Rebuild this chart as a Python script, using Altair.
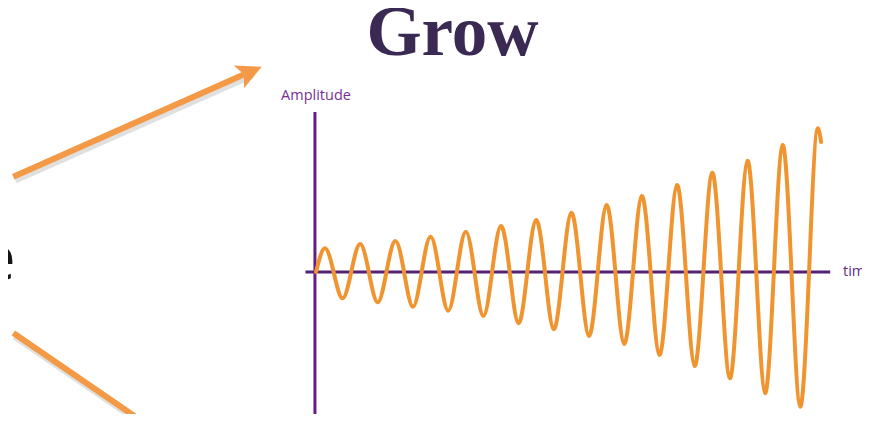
import altair as alt
import pandas as pd

# ---- data ----
# time in cycles, amplitude in arbitrary units (extrema and axis crossings)
time = [0, 0.25, 0.5, 0.75, 1.0, 1.25, 1.5, 1.75, 2.0, 2.25, 2.5, 2.75, 3.0, 3.25, 3.5, 3.75,
        4.0, 4.25, 4.5, 4.75, 5.0, 5.25, 5.5, 5.75, 6.0, 6.25, 6.5, 6.75, 7.0, 7.25, 7.5, 7.75,
        8.0, 8.25, 8.5, 8.75, 9.0, 9.25, 9.5, 9.75, 10.0, 10.25, 10.5, 10.75, 11.0, 11.25, 11.5, 11.75,
        12.0, 12.25, 12.5, 12.75, 13.0, 13.25, 13.5, 13.75, 14.0, 14.25, 14.34]
amplitude = [0, 23.7, 0, -26.3, 0, 28, 0, -30.3, 0, 31, 0, -34.7, 0, 35.3, 0, -38.7,
             0, 40.3, 0, -44, 0, 46, 0, -51.3, 0, 52, 0, -57.3, 0, 59.3, 0, -64,
             0, 67, 0, -72, 0, 76, 0, -83, 0, 87, 0, -94, 0, 99.3, 0, -106.3,
             0, 111.3, 0, -121.3, 0, 127, 0, -134.7, 0, 143.7, 130]

tail_start = 14.0  # last axis crossing; the final hooked crest is drawn on its own

time_axis_extent = [-0.3, 14.6]
amp_axis_extent = [-160, 160]
axis_time_pos = [-0.03]

title_text = "Grow"
y_label = "Amplitude"
x_label = "time"
side_letter = "e"

# ---- styling ----
W, H = 854, 406
ORANGE = "#f09430"
ARROW = "#f49a47"
PURPLE_V = "#661c82"
PURPLE_H = "#512276"

x_scale = alt.Scale(domain=[0, 15], range=[308, 836.3], nice=False, zero=False)
y_scale = alt.Scale(domain=[-150, 150], range=[414, 114], nice=False, zero=False)

wave_df = pd.DataFrame({"time": time, "amplitude": amplitude})
h_axis_df = pd.DataFrame({"t0": [time_axis_extent[0]], "t1": [time_axis_extent[1]], "a": [0]})
v_axis_df = pd.DataFrame({"t": axis_time_pos, "a0": [amp_axis_extent[0]], "a1": [amp_axis_extent[1]]})
one = pd.DataFrame({"k": [0]})

h_axis = alt.Chart(h_axis_df).mark_rule(color=PURPLE_H, strokeWidth=3).encode(
    x=alt.X("t0:Q", scale=x_scale, axis=None),
    x2="t1:Q",
    y=alt.Y("a:Q", scale=y_scale, axis=None),
)
v_axis = alt.Chart(v_axis_df).mark_rule(color=PURPLE_V, strokeWidth=3).encode(
    x=alt.X("t:Q", scale=x_scale, axis=None),
    y=alt.Y("a0:Q", scale=y_scale, axis=None),
    y2="a1:Q",
)
wave_enc = dict(
    x=alt.X("time:Q", scale=x_scale, axis=None),
    y=alt.Y("amplitude:Q", scale=y_scale, axis=None),
)
wave_main = alt.Chart(wave_df).transform_filter(
    alt.datum.time <= tail_start
).mark_line(color=ORANGE, strokeWidth=4, interpolate="natural", strokeCap="round").encode(**wave_enc)
wave_tail = alt.Chart(wave_df).transform_filter(
    alt.datum.time >= tail_start
).mark_line(color=ORANGE, strokeWidth=4, interpolate="monotone", strokeCap="round").encode(**wave_enc)

title = alt.Chart(one).mark_text(text=title_text, font="Liberation Serif", fontSize=71, fontWeight="bold",
                                 color="#3a2953", align="center", baseline="alphabetic").encode(
    x=alt.value(444.5), y=alt.value(47))
amp_label = alt.Chart(one).mark_text(text=y_label, font="Open Sans", fontSize=14.5,
                                     color="#7a2f8f", align="center", baseline="alphabetic").encode(
    x=alt.value(308), y=alt.value(92))
time_label = alt.Chart(one).mark_text(text=x_label, font="Open Sans", fontSize=14.5,
                                      color="#6b2a85", align="left", baseline="alphabetic").encode(
    x=alt.value(835), y=alt.value(268))
letter = alt.Chart(one).mark_text(text=side_letter, font="Open Sans", fontSize=64,
                                  color="#151515", align="right", baseline="alphabetic").encode(
    x=alt.value(7.7), y=alt.value(272))

# decorative arrows (shadow + stroke + head)
arrow1_shadow = alt.Chart(one).mark_rule(color="#000000", opacity=0.12, strokeWidth=8).encode(
    x=alt.value(7), y=alt.value(171.5), x2=alt.value(244), y2=alt.value(66.5))
arrow1 = alt.Chart(one).mark_rule(color=ARROW, strokeWidth=6).encode(
    x=alt.value(5.3), y=alt.value(168.7), x2=alt.value(242), y2=alt.value(63.8))
arrow1_head = alt.Chart(one).mark_point(shape="M 1 0 L -1 -1 L -0.55 0 L -1 1 Z", filled=True,
                                        size=625, angle=336.1, color=ARROW, opacity=1).encode(
    x=alt.value(242.3), y=alt.value(63.8))
arrow2_shadow = alt.Chart(one).mark_rule(color="#000000", opacity=0.12, strokeWidth=8).encode(
    x=alt.value(7), y=alt.value(328), x2=alt.value(146), y2=alt.value(423))
arrow2 = alt.Chart(one).mark_rule(color=ARROW, strokeWidth=6).encode(
    x=alt.value(5.3), y=alt.value(325), x2=alt.value(143.8), y2=alt.value(420))

chart = alt.layer(
    arrow1_shadow, arrow2_shadow, arrow1, arrow1_head, arrow2,
    h_axis, v_axis, wave_main, wave_tail,
    title, amp_label, time_label, letter,
).properties(
    width=W, height=H, padding=0,
    autosize=alt.AutoSizeParams(type="none"),
    background="white",
).configure_view(stroke=None)

chart.save("out.html", embed_options={"renderer": "svg", "actions": False})
